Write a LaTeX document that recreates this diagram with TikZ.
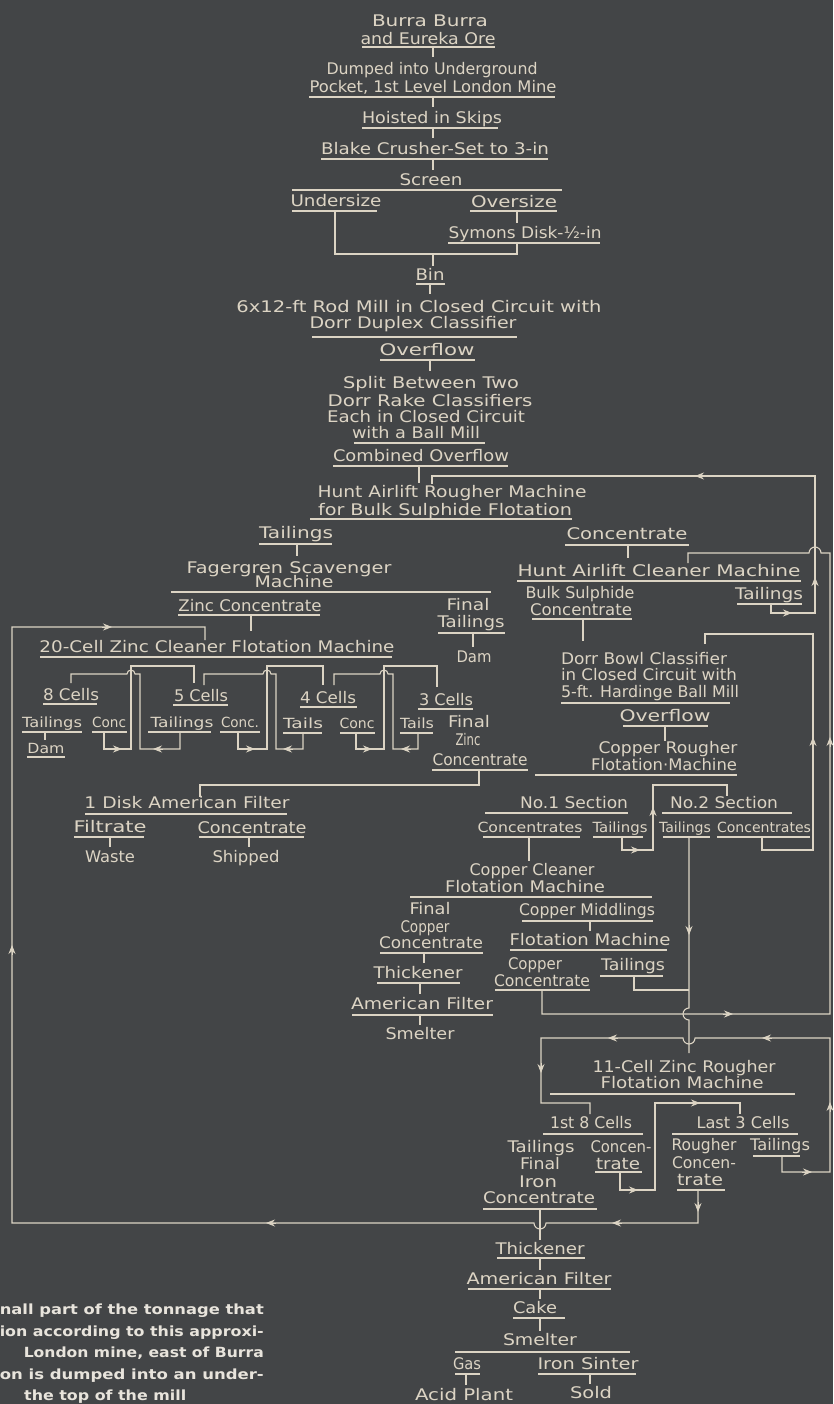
\documentclass[tikz,border=0pt]{standalone}
\usepackage{fontspec}
\setmainfont{DejaVu Sans}
\newfontfamily\capfont{DejaVu Sans}
\usetikzlibrary{arrows.meta}
\definecolor{board}{RGB}{67,69,71}
\definecolor{chalk}{RGB}{220,212,196}
\definecolor{capc}{RGB}{232,228,220}
\newcommand{\W}[2]{\resizebox{#1pt}{\height}{#2}}
\newcommand{\Lbl}[5]{\node[lbl] (#1) at (#2,#3+5.5) {\W{#4}{#5}};}
\newcommand{\Sbl}[5]{\node[sml] (#1) at (#2,#3+5) {\W{#4}{#5}};}
\newcommand{\Uline}[3]{\draw[ln] (#1,#3) -- (#2,#3);}
\newcommand{\Tk}[3]{\draw[ln] (#1,#2) -- (#1,#3);}
\newcommand{\Tp}[3]{\draw[tipst] (#1,#2) ++(#3+180:10) -- (#1,#2);}
\tikzset{
  lbl/.style={anchor=base, inner sep=0pt, text=chalk, font=\fontsize{16}{19}\selectfont},
  sml/.style={lbl, font=\fontsize{14}{17}\selectfont},
  captxt/.style={anchor=base east, inner sep=0pt, text=capc, font=\capfont\bfseries\fontsize{14}{17}\selectfont},
  ln/.style={draw=chalk, line width=1.1pt},
  tipst/.style={draw=chalk, fill=chalk, line width=0.8pt, -{Stealth[length=9pt,width=7pt,inset=3pt]}}
}
\begin{document}
\begin{tikzpicture}[x=1pt,y=-1pt]
\fill[board] (0,0) rectangle (833,1404);
\useasboundingbox (0,0) rectangle (833,1404);

% ---------- top column ----------
\Lbl{t1}{430}{21}{116}{Burra Burra}
\Lbl{t2}{428}{39}{135}{and Eureka Ore}
\Uline{362}{495}{47}
\Tk{433}{47}{57}
\Lbl{t3}{432}{69}{211}{Dumped into Underground}
\Lbl{t4}{433}{87}{247}{Pocket, 1st Level London Mine}
\Uline{309}{555}{97}
\Tk{433}{97}{107}
\Lbl{t5}{432}{118}{140}{Hoisted in Skips}
\Uline{362}{498}{128}
\Tk{433}{128}{138}
\Lbl{t6}{435}{149}{228}{Blake Crusher-Set to 3-in}
\Uline{321}{548}{159}
\Tk{433}{159}{170}
\Lbl{t7}{431}{180}{63}{Screen}
\Uline{292}{562}{190}
\Lbl{t8}{336}{201}{91}{Undersize}
\Uline{292}{377}{211}
\Lbl{t9}{514}{202}{86}{Oversize}
\Uline{470}{557}{211}
\Tk{517}{211}{223}
\Lbl{t10}{525}{233}{153}{Symons Disk-½-in}
\Uline{448}{600}{243}
\draw[ln] (335,211) -- (335,254) -- (517,254) -- (517,243);
\Tk{433}{254}{266}
\Lbl{t11}{430}{275}{29}{Bin}
\Uline{416}{445}{284}
\Tk{430}{284}{294}
\Lbl{t12}{419}{307}{365}{6x12-ft Rod Mill in Closed Circuit with}
\Lbl{t13}{413}{323}{207}{Dorr Duplex Classifier}
\Uline{312}{517}{337}
\Lbl{t14}{427}{350}{95}{Overflow}
\Uline{380}{475}{360}
\Tk{430}{360}{371}
\Lbl{t15}{431}{383}{176}{Split Between Two}
\Lbl{t16}{430}{401}{205}{Dorr Rake Classifiers}
\Lbl{t17}{426}{417}{198}{Each in Closed Circuit}
\Lbl{t18}{416}{433}{128}{with a Ball Mill}
\Uline{354}{485}{443}
\Lbl{t19}{421}{456}{176}{Combined Overflow}
\Uline{333}{508}{466}
\Tk{419}{466}{483}
\Lbl{t20}{452}{492}{269}{Hunt Airlift Rougher Machine}
\Lbl{t21}{445}{510}{254}{for Bulk Sulphide Flotation}
\Uline{310}{572}{519}

% ---------- scavenger / zinc cleaner ----------
\Lbl{t22}{296}{533}{74}{Tailings}
\Uline{259}{332}{544}
\Tk{297}{544}{556}
\Lbl{t23}{289}{568}{205}{Fagergren Scavenger}
\Lbl{t24}{294}{582}{79}{Machine}
\Uline{171}{491}{592}
\Lbl{t25}{250}{606}{143}{Zinc Concentrate}
\Uline{178}{320}{615}
\Tk{251}{615}{631}
\Lbl{t26}{468}{605}{43}{Final}
\Lbl{t27}{471}{622}{67}{Tailings}
\Uline{438}{505}{633}
\Tk{473}{633}{647}
\Lbl{t28}{474}{657}{35}{Dam}
\Lbl{t29}{217}{647}{355}{20-Cell Zinc Cleaner Flotation Machine}
\Uline{40}{392}{657}
\Lbl{t30}{71}{695}{56}{8 Cells}  \Uline{43}{97}{704}
\Lbl{t31}{201}{696}{54}{5 Cells} \Uline{173}{228}{705}
\Lbl{t32}{328}{698}{56}{4 Cells} \Uline{300}{357}{707}
\Lbl{t33}{446}{700}{54}{3 Cells} \Uline{418}{473}{709}
\Sbl{t34}{52}{722}{60}{Tailings} \Uline{22}{82}{732}
\Sbl{t35}{109}{722}{34}{Conc} \Uline{92}{127}{732}
\Tk{45}{732}{740}
\Sbl{t36}{46}{748}{37}{Dam} \Uline{27}{65}{757}
\Sbl{t37}{182}{722}{63}{Tailings} \Uline{148}{211}{732}
\Sbl{t38}{240}{722}{38}{Conc.} \Uline{220}{260}{732}
\Sbl{t39}{303}{723}{40}{Tails} \Uline{283}{322}{733}
\Sbl{t40}{357}{723}{35}{Conc} \Uline{340}{375}{733}
\Sbl{t41}{417}{723}{34}{Tails} \Uline{400}{433}{733}
\Lbl{t42}{469}{722}{42}{Final}
\Lbl{t43}{468}{740}{25}{Zinc}
\Lbl{t44}{480}{760}{95}{Concentrate}
\Uline{432}{528}{770}
\draw[ln] (104,732) -- (104,749) -- (131,749) -- (131,666) -- (194,666) -- (194,683);
\draw[ln] (180,732) -- (180,749) -- (140,749) -- (140,674) -- (135,674) arc[start angle=0,end angle=-180,radius=4] -- (71,674) -- (71,683);
\draw[ln] (238,732) -- (238,749) -- (267,749) -- (267,666) -- (323,666) -- (323,685);
\draw[ln] (303,733) -- (303,749) -- (276,749) -- (276,674) -- (271,674) arc[start angle=0,end angle=-180,radius=4] -- (204,674) -- (204,685);
\draw[ln] (356,733) -- (356,749) -- (384,749) -- (384,666) -- (437,666) -- (437,687);
\draw[ln] (418,733) -- (418,749) -- (393,749) -- (393,674) -- (388,674) arc[start angle=0,end angle=-180,radius=4] -- (334,674) -- (334,685);
\Tp{122}{749}{0} \Tp{153}{749}{180} \Tp{255}{749}{0}
\Tp{283}{749}{180} \Tp{372}{749}{0} \Tp{401}{749}{180}
\draw[ln] (479,770) -- (479,785) -- (200,785) -- (200,797);
\Lbl{t45}{187}{803}{205}{1 Disk American Filter} \Uline{85}{287}{814}
\Lbl{t46}{110}{827}{73}{Filtrate} \Uline{74}{144}{837}
\Tk{110}{837}{847}
\Lbl{t47}{110}{857}{50}{Waste}
\Lbl{t48}{252}{828}{109}{Concentrate} \Uline{199}{304}{837}
\Tk{249}{837}{847}
\Lbl{t49}{246}{857}{67}{Shipped}

% ---------- bulk sulphide cleaner / copper ----------
\Lbl{t50}{627}{534}{121}{Concentrate} \Uline{565}{689}{545}
\Tk{628}{545}{558}
\Lbl{t51}{659}{571}{283}{Hunt Airlift Cleaner Machine} \Uline{517}{801}{581}
\Lbl{t52}{580}{593}{109}{Bulk Sulphide}
\Lbl{t53}{581}{610}{102}{Concentrate} \Uline{532}{632}{619}
\Tk{583}{619}{641}
\Lbl{t54}{769}{594}{68}{Tailings} \Uline{737}{802}{604}
\draw[ln] (771,604) -- (771,613) -- (815,613) -- (815,476) -- (432,476) -- (432,484);
\Tp{792}{613}{0} \Tp{815}{577}{270} \Tp{695}{476}{180}
\draw[ln] (542,990) -- (542,1014) -- (830,1014) -- (830,553) -- (821,553) arc[start angle=0,end angle=-180,radius=6] -- (688,553) -- (688,563);
\Tp{733}{1014}{0} \Tp{830}{737}{270}
\draw[ln] (762,837) -- (762,850) -- (813,850) -- (813,634) -- (705,634) -- (705,644);
\Tp{813}{737}{270}
\Lbl{t55}{644}{659}{166}{Dorr Bowl Classifier}
\Lbl{t56}{649}{675}{176}{in Closed Circuit with}
\Lbl{t57}{650}{692}{178}{5-ft. Hardinge Ball Mill}
\Uline{561}{730}{703}
\Lbl{t58}{665}{716}{91}{Overflow} \Uline{623}{708}{726}
\Tk{665}{726}{741}
\Lbl{t59}{668}{748}{139}{Copper Rougher}
\Lbl{t60}{664}{765}{146}{Flotation·Machine}
\Uline{535}{737}{775}
\Lbl{t61}{574}{803}{108}{No.1 Section} \Uline{485}{628}{813}
\Lbl{t62}{724}{803}{108}{No.2 Section} \Uline{662}{792}{813}
\Sbl{t63}{530}{827}{105}{Concentrates} \Uline{483}{580}{837}
\Sbl{t64}{620}{827}{55}{Tailings} \Uline{593}{643}{837}
\Sbl{t65}{685}{827}{52}{Tailings} \Uline{663}{710}{837}
\Sbl{t66}{764}{827}{94}{Concentrates} \Uline{717}{810}{837}
\draw[ln] (622,837) -- (622,850) -- (653,850) -- (653,785) -- (727,785) -- (727,796);
\Tp{640}{850}{0} \Tp{653}{807}{270}
\Tk{529}{837}{861}
\Lbl{t67}{532}{870}{125}{Copper Cleaner}
\Lbl{t68}{525}{887}{160}{Flotation Machine}
\Uline{410}{652}{897}
\Lbl{t69}{430}{909}{41}{Final}
\Lbl{t70}{425}{927}{49}{Copper}
\Lbl{t71}{431}{943}{104}{Concentrate}
\Uline{380}{483}{953}
\Tk{424}{953}{963}
\Lbl{t72}{418}{973}{89}{Thickener} \Uline{377}{460}{983}
\Tk{420}{983}{994}
\Lbl{t73}{422}{1004}{142}{American Filter} \Uline{352}{493}{1015}
\Tk{420}{1015}{1025}
\Lbl{t74}{420}{1034}{69}{Smelter}
\Lbl{t75}{587}{910}{136}{Copper Middlings} \Uline{522}{653}{921}
\Tk{590}{921}{931}
\Lbl{t76}{590}{940}{161}{Flotation Machine} \Uline{510}{667}{950}
\Lbl{t77}{535}{964}{54}{Copper}
\Lbl{t78}{542}{981}{96}{Concentrate} \Uline{495}{590}{990}
\Lbl{t79}{633}{965}{64}{Tailings} \Uline{600}{663}{976}
\draw[ln] (634,976) -- (634,990) -- (689,990);
\draw[ln] (689,837) -- (689,1008) arc[start angle=270,end angle=90,radius=6] -- (689,1053);
\Tp{689}{935}{90}

% ---------- zinc rougher ----------
\Lbl{t80}{684}{1067}{183}{11-Cell Zinc Rougher}
\Lbl{t81}{682}{1083}{163}{Flotation Machine}
\Uline{550}{795}{1094}
\draw[ln] (782,1156) -- (782,1172) -- (830,1172) -- (830,1038) -- (695,1038) arc[start angle=0,end angle=180,radius=6] -- (541,1038) -- (541,1103) -- (590,1103) -- (590,1114);
\Tp{812}{1172}{0} \Tp{830}{1102}{270} \Tp{762}{1038}{180} \Tp{608}{1038}{180} \Tp{541}{1073}{90}
\draw[ln] (620,1172) -- (620,1190) -- (655,1190) -- (655,1103) -- (740,1103) -- (740,1114);
\Tp{638}{1190}{0} \Tp{700}{1103}{0}
\Lbl{t82}{591}{1123}{82}{1st 8 Cells} \Uline{543}{643}{1134}
\Lbl{t83}{743}{1123}{93}{Last 3 Cells} \Uline{672}{798}{1134}
\Lbl{t84}{541}{1147}{67}{Tailings}
\Lbl{t85}{540}{1164}{40}{Final}
\Lbl{t86}{538}{1182}{38}{Iron}
\Lbl{t87}{539}{1198}{112}{Concentrate}
\Uline{483}{597}{1209}
\Lbl{t88}{621}{1147}{61}{Concen-}
\Lbl{t89}{618}{1164}{44}{trate} \Uline{595}{642}{1172}
\Lbl{t90}{704}{1145}{65}{Rougher}
\Lbl{t91}{704}{1163}{64}{Concen-}
\Lbl{t92}{700}{1180}{46}{trate} \Uline{677}{725}{1190}
\Lbl{t93}{780}{1145}{60}{Tailings} \Uline{753}{800}{1156}
\draw[ln] (698,1190) -- (698,1223) -- (546,1223) arc[start angle=0,end angle=180,radius=6] -- (12,1223) -- (12,627) -- (205,627) -- (205,640);
\Tp{698}{1212}{90} \Tp{612}{1223}{180} \Tp{266}{1223}{180} \Tp{12}{945}{270} \Tp{112}{627}{0}

% ---------- iron ----------
\Tk{540}{1209}{1240}
\Lbl{t94}{540}{1249}{89}{Thickener} \Uline{497}{585}{1258}
\Tk{540}{1258}{1270}
\Lbl{t95}{539}{1279}{145}{American Filter} \Uline{468}{611}{1289}
\Tk{540}{1289}{1299}
\Lbl{t96}{535}{1308}{44}{Cake} \Uline{513}{565}{1318}
\Tk{540}{1318}{1331}
\Lbl{t97}{540}{1340}{74}{Smelter} \Uline{455}{630}{1352}
\Lbl{t98}{467}{1364}{28}{Gas} \Uline{455}{480}{1374}
\Tk{466}{1374}{1385}
\Lbl{t99}{464}{1395}{98}{Acid Plant}
\Lbl{t100}{588}{1364}{101}{Iron Sinter} \Uline{538}{636}{1374}
\Tk{590}{1374}{1384}
\Lbl{t101}{591}{1393}{42}{Sold}

% ---------- caption fragment ----------
\node[captxt] (c1) at (264,1314) {\W{264}{nall part of the tonnage that}};
\node[captxt] (c2) at (264,1336) {\W{264}{ion according to this approxi-}};
\node[captxt] (c3) at (264,1357) {\W{240}{London mine, east of Burra}};
\node[captxt] (c4) at (264,1379) {\W{264}{on is dumped into an under-}};
\node[captxt, anchor=base west] (c5) at (24,1400) {\W{162}{the top of the mill}};
\end{tikzpicture}
\end{document}
